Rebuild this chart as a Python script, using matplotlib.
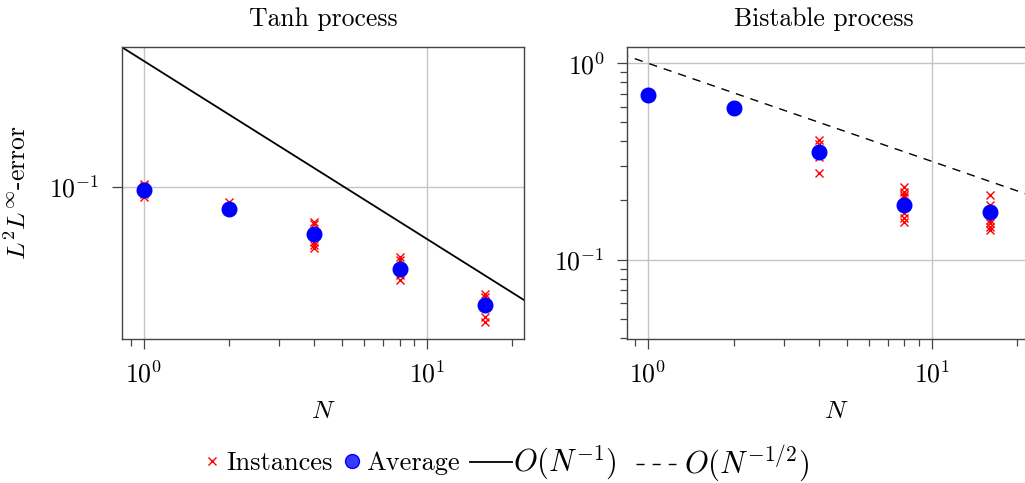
import numpy as np
import matplotlib
matplotlib.use('Agg')
import matplotlib.pyplot as plt
from matplotlib.lines import Line2D
from matplotlib.ticker import LogLocator, NullLocator, NullFormatter

plt.rcParams['font.family'] = 'serif'
plt.rcParams['font.serif'] = ['cmr10']
plt.rcParams['mathtext.fontset'] = 'cm'
plt.rcParams['axes.formatter.use_mathtext'] = True

N_vals = [1, 2, 4, 8, 16]

# tanh process
tanh_avg = [0.0962, 0.075, 0.0542, 0.0345, 0.0217]
tanh_inst = [
    [0.104, 0.101, 0.088, 0.091],
    [0.082, 0.076, 0.074],
    [0.0639, 0.0617, 0.0493, 0.0472, 0.0452],
    [0.0406, 0.0389, 0.0320, 0.0300],
    [0.0249, 0.0242, 0.0187, 0.0175],
]

# bistable process
bist_avg = [0.689, 0.594, 0.353, 0.189, 0.174]
bist_inst = [
    [0.70, 0.68, 0.69],
    [0.60, 0.58, 0.59],
    [0.406, 0.39, 0.334, 0.275],
    [0.235, 0.222, 0.213, 0.209, 0.172, 0.162, 0.155],
    [0.213, 0.189, 0.159, 0.153, 0.147, 0.141],
]

ref_N = [0.5, 40]
c_tanh = 0.51
c_bist = 1.0

FS = 18.5
LFS = 19

fig = plt.figure(figsize=(10.25, 4.83), dpi=100)
ax1 = fig.add_axes([122/1025, 1-339/483, 402/1025, 292/483])
ax2 = fig.add_axes([627/1025, 1-339/483, 418/1025, 292/483])


def style(ax):
    ax.set_xscale('log')
    ax.set_yscale('log')
    ax.grid(True, which='major', color='#c4c4c4', lw=1.0)
    ax.set_axisbelow(True)
    for s in ax.spines.values():
        s.set_color('#444444')
        s.set_linewidth(1.0)
    ax.tick_params(which='major', direction='out', length=7, width=0.9,
                   color='#444444', labelsize=FS, pad=9)
    ax.tick_params(which='minor', direction='out', length=5, width=0.9,
                   color='#444444')
    ax.xaxis.set_minor_locator(LogLocator(base=10, subs=np.arange(2, 10)))
    ax.xaxis.set_minor_formatter(NullFormatter())
    ax.set_xlabel('$N$', fontsize=FS, labelpad=8)


def draw(ax, avg, inst):
    for n, ys in zip(N_vals, inst):
        ax.plot([n]*len(ys), ys, ls='none', marker='x', color='red',
                ms=6, mew=1.0, zorder=3)
    ax.plot(N_vals, avg, ls='none', marker='o', color='blue', ms=10.5,
            zorder=4)


style(ax1)
style(ax2)

draw(ax1, tanh_avg, tanh_inst)
rn = np.array(ref_N)
ax1.plot(rn, c_tanh / rn, color='black', lw=1.3, zorder=2)
ax1.set_xlim(0.836, 22.0)
ax1.set_ylim(0.014, 0.612)
ax1.yaxis.set_minor_locator(NullLocator())
ax1.set_title('Tanh process', fontsize=FS, pad=15)
ax1.set_ylabel(r'$L^2L^\infty$-error', fontsize=FS, labelpad=13)

draw(ax2, bist_avg, bist_inst)
ax2.plot(rn, c_bist / np.sqrt(rn), color='black', lw=1.0,
         dashes=(6, 5), zorder=2)
ax2.set_xlim(0.843, 25.0)
ax2.set_ylim(0.0394, 1.21)
ax2.yaxis.set_minor_locator(LogLocator(base=10, subs=np.arange(2, 10)))
ax2.yaxis.set_minor_formatter(NullFormatter())
ax2.spines['right'].set_visible(False)
ax2.set_title('Bistable process', fontsize=FS, pad=15, x=0.47)

# shared legend, one small legend per entry so the gaps follow the original
entries = [
    (Line2D([], [], ls='none', marker='x', color='red', ms=6, mew=1.0),
     'Instances', LFS, 204, 0.6, 0.23),
    (Line2D([], [], ls='none', marker='o', color='blue', mfc='#3a3aff', ms=10),
     'Average', LFS, 344, 0.6, 0.23),
    (Line2D([], [], color='black', lw=1.3),
     '$O(N^{-1})$', 22, 470, 1.59, 0.05),
    (Line2D([], [], color='black', lw=1.0, dashes=(5.8, 5.8)),
     '$O(N^{-1/2})$', 22, 636, 1.52, 0.3),
]
for h, lab, fs, x0, hl, tp in entries:
    leg = fig.legend([h], [lab], loc='center left',
                     bbox_to_anchor=(x0/1025, 1-463/483),
                     frameon=False, fontsize=LFS, handlelength=hl,
                     handletextpad=tp, borderpad=0, borderaxespad=0)
    leg.get_texts()[0].set_fontsize(fs)

fig.savefig('out.png', dpi=100)
